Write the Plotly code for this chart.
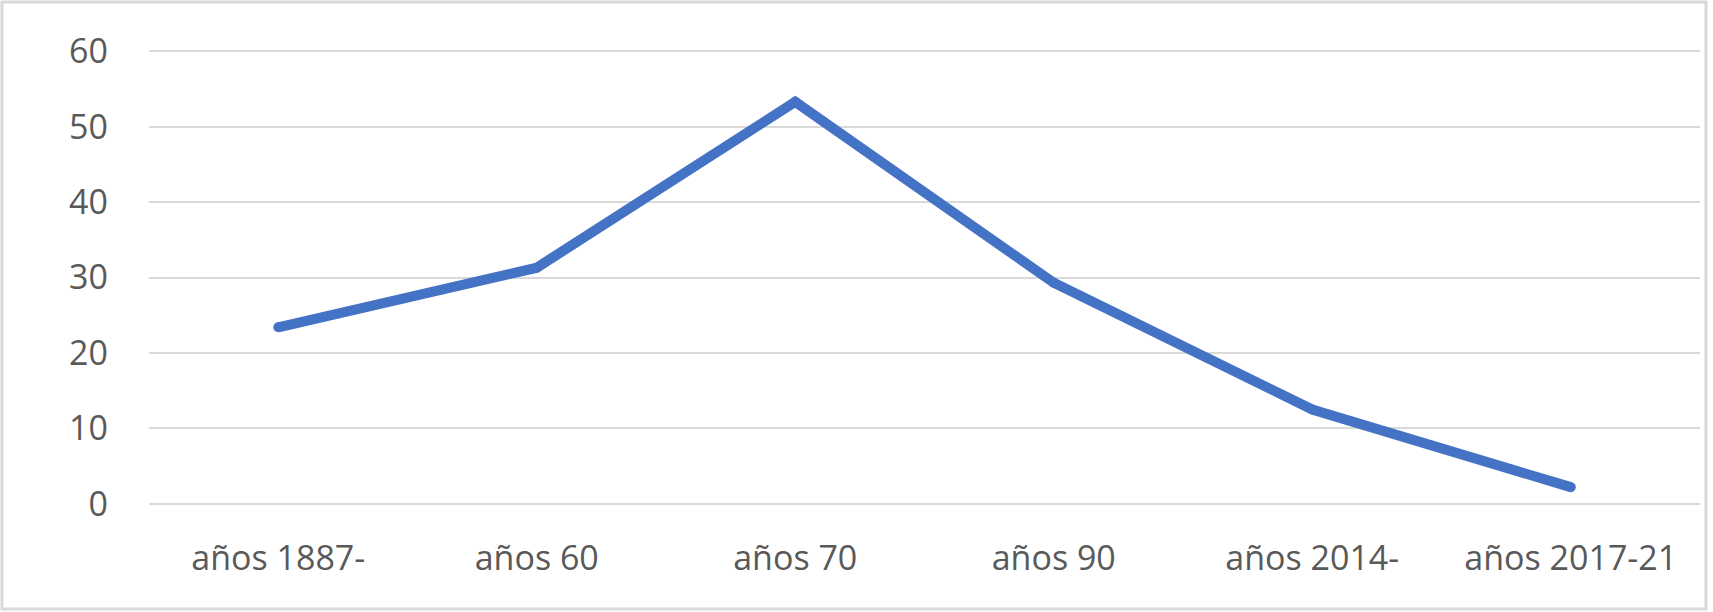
import plotly.graph_objects as go

categories = ["años 1887-", "años 60", "años 70", "años 90", "años 2014-", "años 2017-21"]
values = [23.4, 31.3, 53.3, 29.3, 12.5, 2.2]
y_ticks = [0, 10, 20, 30, 40, 50, 60]

W, H = 1713, 612
L, R, T, B = 149, 13, 49, 106
pw, ph = W - L - R, H - T - B

fig = go.Figure()
fig.add_trace(go.Scatter(
    x=categories, y=values, mode="lines+markers",
    line=dict(color="#4472C4", width=10),
    marker=dict(color="#4472C4", size=10, line=dict(width=0)),
    hoverinfo="skip",
))

def px2x(px):
    return (px - L) / pw

def py2y(py):
    return (H - B - py) / ph

fig.add_shape(type="rect", xref="paper", yref="paper",
              x0=px2x(2), x1=px2x(1706), y0=py2y(609), y1=py2y(2),
              line=dict(color="#d9d9d9", width=3), layer="below")

font = dict(family="Open Sans, Lato, sans-serif", size=34, color="#595959")
fig.update_layout(
    width=W, height=H,
    margin=dict(l=L, r=R, t=T, b=B, pad=0),
    paper_bgcolor="white", plot_bgcolor="white",
    showlegend=False,
    font=font,
    xaxis=dict(type="category", showgrid=False, showline=False, zeroline=False,
               ticks="", tickfont=font, ticklabelstandoff=29,
               range=[-0.5, len(categories) - 0.5]),
    yaxis=dict(range=[-0.3, 60.3], tickvals=y_ticks, showgrid=True, gridcolor="#d9d9d9",
               gridwidth=2, zeroline=False, showline=False, ticks="",
               tickfont=font, ticklabelstandoff=40),
)
fig.write_html("out.html", config={"displayModeBar": False},
               post_script="document.body.style.margin='0';document.body.style.overflow='hidden';")
